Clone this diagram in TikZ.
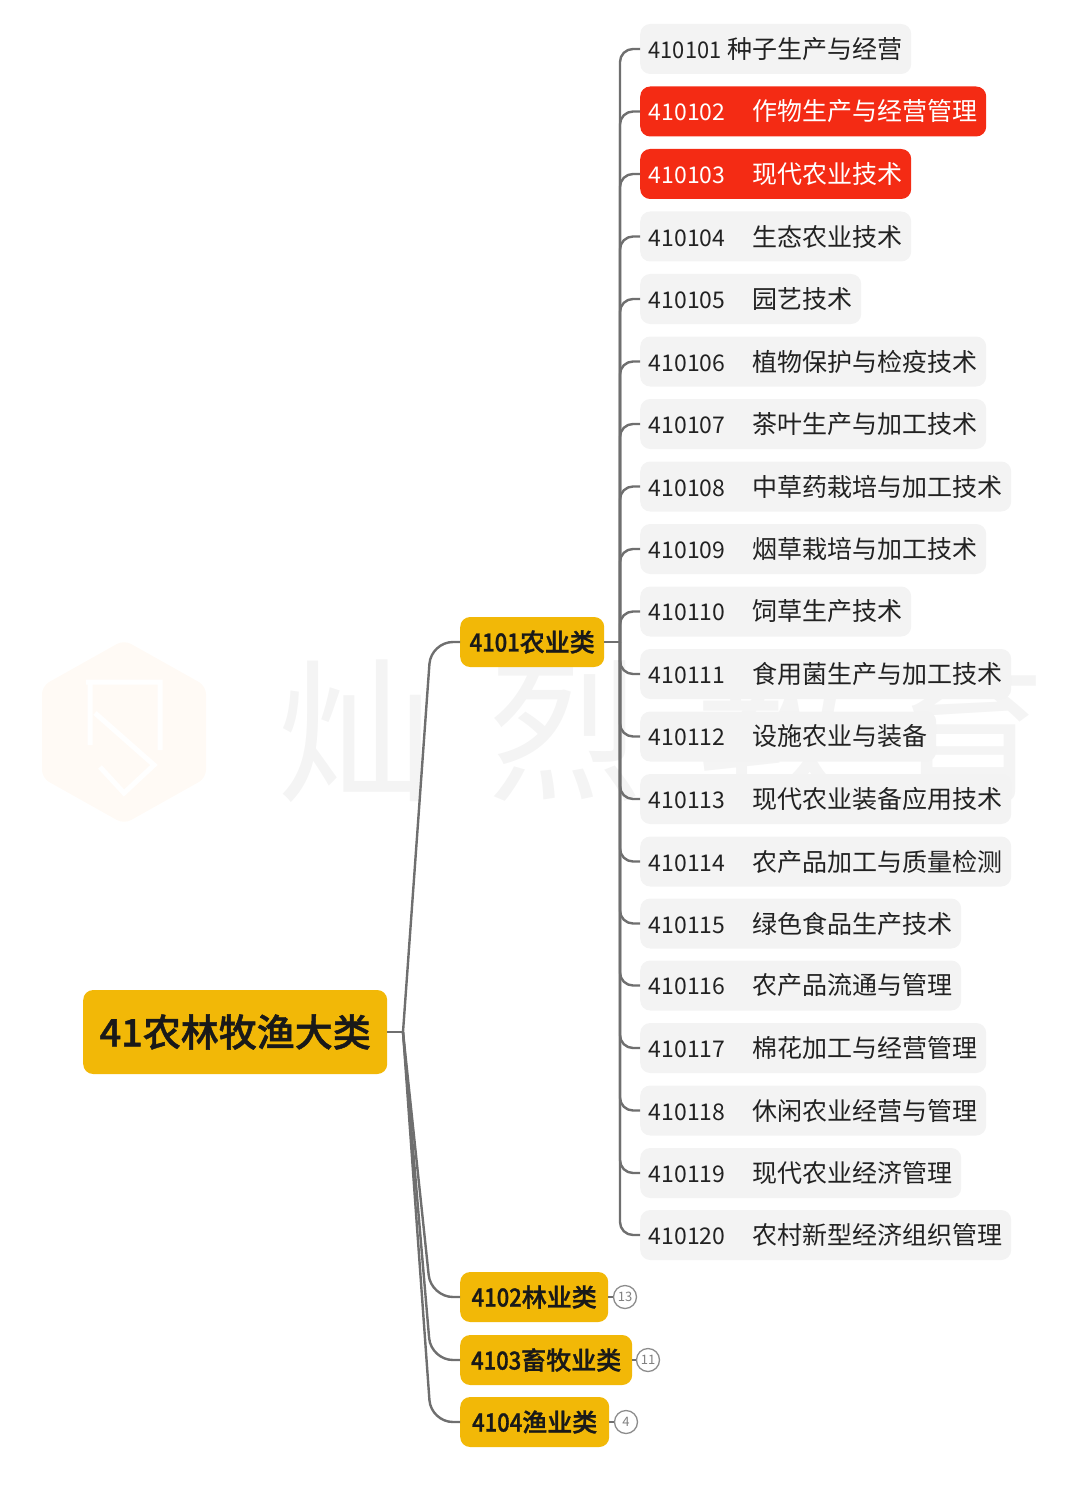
\documentclass[tikz,border=0pt]{standalone}
\usepackage{fontspec}
\setmainfont{Noto Sans CJK SC}
\newfontfamily\catfont[FakeBold=1.2]{Noto Sans CJK SC Medium}
\definecolor{majoryellow}{HTML}{F2B807}
\definecolor{hotred}{HTML}{F42B14}
\definecolor{leafgray}{HTML}{F3F3F3}
\definecolor{linkgray}{HTML}{6F6F6F}
\definecolor{inkdark}{HTML}{222222}
\newcommand{\codefont}{\fontsize{23}{25}\selectfont}
\newcommand{\leafcode}[1]{\makebox[104pt][l]{\codefont #1}}
\newcommand{\catdigits}[1]{\scalebox{0.88}[1]{#1}}
\tikzset{
  box/.style={anchor=west, rounded corners=10pt, inner xsep=8.5pt, inner ysep=0pt, minimum height=50pt, align=left},
  leafbox/.style={box, fill=leafgray, text=inkdark, font=\fontsize{25}{27}\selectfont},
  redbox/.style={box, fill=hotred, text=white, font=\fontsize{25}{27}\selectfont},
  catbox/.style={box, fill=majoryellow, text=black!90, font=\fontsize{25}{27}\catfont},
  badge/.style={circle, draw=black!45, line width=1.3pt, fill=white, text=black!50, minimum size=23pt, inner sep=0pt, font=\fontsize{13}{14}\selectfont},
  link/.style={draw=linkgray, line width=2.4pt},
  ghost/.style={text=black!4.5, font=\fontsize{155}{160}\selectfont}
}
\begin{document}
\begin{tikzpicture}[x=1pt, y=-1pt]
\useasboundingbox (0,0) rectangle (1080,1495);

% Watermark
\fill[orange!4, rounded corners=8pt] (124,640) -- (206,686) -- (206,778) -- (124,824) -- (42,778) -- (42,686) -- cycle;
\draw[white, line width=5pt] (86,682) -- (160,682) -- (160,750) (90,682) -- (90,745) (95,713) -- (154,765) -- (124,793) -- (100,767);
\node[ghost] (wm1) at (355,731) {灿};
\node[ghost] (wm2) at (565,731) {烈};
\node[ghost] (wm3) at (775,731) {教};
\node[ghost] (wm4) at (968,731) {育};

% Root and categories
\node[box, fill=majoryellow, text=black!90, minimum width=304pt, minimum height=84pt, inner xsep=15pt, font=\fontsize{38}{40}\catfont] (root) at (83,1032) {41农林牧渔大类};
\node[catbox, minimum width=144pt] (cat1) at (460,642) {\catdigits{4101}农业类};
\node[catbox, minimum width=148pt] (cat2) at (460,1297) {\catdigits{4102}林业类};
\node[catbox, minimum width=172pt] (cat3) at (460,1360) {\catdigits{4103}畜牧业类};
\node[catbox, minimum width=149pt] (cat4) at (460,1422) {\catdigits{4104}渔业类};

% Collapsed counts
\node[badge] (count2) at (625,1297) {13};
\node[badge] (count3) at (648,1360) {11};
\node[badge] (count4) at (626,1422) {4};

% Root connectors
\coordinate (rootjoint) at (403,1032);
\draw[link] (root.east) -- (rootjoint);
\foreach \c in {cat1,cat2,cat3,cat4} {
  \draw[link, rounded corners=22pt] (rootjoint) -- (431,0 |- \c.west) -- (\c.west);
}
\draw[link, line width=1.6pt] (cat2.east) -- (count2.west);
\draw[link, line width=1.6pt] (cat3.east) -- (count3.west);
\draw[link, line width=1.6pt] (cat4.east) -- (count4.west);

% Majors
\coordinate (hub) at (620,642);
\draw[link] (cat1.east) -- (hub);
\foreach \y/\w/\code/\kind/\name in {
  111.5/345/410102/redbox/作物生产与经营管理,
  174/270/410103/redbox/现代农业技术,
  236.5/270/410104/leafbox/生态农业技术,
  299/220/410105/leafbox/园艺技术,
  361.5/345/410106/leafbox/植物保护与检疫技术,
  424/345/410107/leafbox/茶叶生产与加工技术,
  486.5/370/410108/leafbox/中草药栽培与加工技术,
  549/345/410109/leafbox/烟草栽培与加工技术,
  611.5/270/410110/leafbox/饲草生产技术,
  674/370/410111/leafbox/食用菌生产与加工技术,
  736.5/295/410112/leafbox/设施农业与装备,
  799/370/410113/leafbox/现代农业装备应用技术,
  861.5/370/410114/leafbox/农产品加工与质量检测,
  923.5/320/410115/leafbox/绿色食品生产技术,
  985.5/320/410116/leafbox/农产品流通与管理,
  1048/345/410117/leafbox/棉花加工与经营管理,
  1110.5/345/410118/leafbox/休闲农业经营与管理,
  1173/320/410119/leafbox/现代农业经济管理,
  1235/370/410120/leafbox/农村新型经济组织管理} {
  \node[\kind, minimum width=\w pt] (m\code) at (640,\y) {\leafcode{\code}\name};
  \draw[link, rounded corners=13pt] (hub) |- (m\code.west);
}
\node[leafbox, minimum width=270pt] (m410101) at (640,49) {\makebox[79pt][l]{\codefont\scalebox{0.95}[1]{410101}}种子生产与经营};
\draw[link, rounded corners=13pt] (hub) |- (m410101.west);

\end{tikzpicture}
\end{document}
